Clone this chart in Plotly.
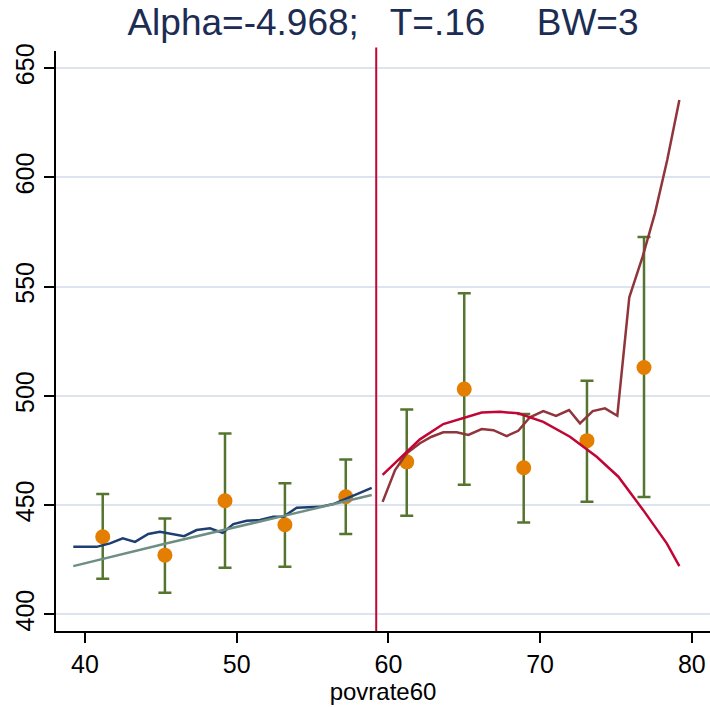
import plotly.graph_objects as go

# Regression-discontinuity plot: outcome against povrate60 around the cutoff
CUTOFF = 59.1984

# Binned means with confidence intervals
bin_x = [41.17, 45.27, 49.23, 53.18, 57.19, 61.21, 65.00, 68.92, 73.09, 76.85]
bin_mean = [435.5, 427.1, 452.0, 441.0, 453.8, 469.8, 503.1, 467.1, 479.5, 513.0]
ci_upper = [455.1, 443.9, 482.8, 460.0, 470.9, 493.8, 546.9, 491.7, 506.9, 572.7]
ci_lower = [416.3, 409.9, 421.3, 421.8, 436.8, 445.1, 459.3, 442.1, 451.5, 453.7]

# Local fit, left of cutoff
left_local_x = [39.23, 40.77, 41.65, 42.49, 43.30, 44.17, 44.94, 45.72, 46.53,
                47.36, 48.24, 49.08, 49.78, 50.66, 51.54, 52.41, 53.07, 53.96,
                55.49, 56.37, 57.25, 58.13, 58.90]
left_local_y = [430.9, 430.9, 432.5, 434.8, 433.2, 436.8, 437.8, 436.8, 435.8,
                438.6, 439.4, 437.3, 441.3, 442.8, 443.2, 444.7, 444.7, 448.8,
                449.2, 450.5, 453.1, 455.7, 457.9]

# Linear fit, left of cutoff
left_linear_x = [39.23, 45.27, 53.18, 58.90]
left_linear_y = [422.1, 432.3, 445.2, 454.6]

# Local fit, right of cutoff
right_local_x = [59.62, 60.44, 61.21, 62.08, 62.85, 63.62, 64.50, 65.27, 66.15,
                 66.92, 67.80, 68.56, 69.33, 70.21, 71.05, 71.91, 72.63, 73.47,
                 74.28, 75.09, 75.88, 76.76, 77.57, 78.38, 79.18]
right_local_y = [451.5, 466.0, 473.7, 478.3, 481.3, 483.3, 483.3, 482.1, 484.8,
                 484.3, 481.6, 484.0, 490.2, 493.0, 490.8, 493.5, 487.4, 493.0,
                 494.3, 490.9, 545.1, 563.7, 583.5, 607.9, 635.4]

# Quadratic fit, right of cutoff
right_quad_x = [59.62, 61.21, 62.08, 63.62, 66.15, 67.36, 68.56, 70.21, 71.97,
                73.73, 75.16, 76.80, 78.35, 79.18]
right_quad_y = [463.8, 474.4, 480.1, 487.1, 492.4, 492.7, 492.0, 488.1, 481.3,
                472.1, 463.0, 447.7, 432.5, 422.1]

y_ticks = [400, 450, 500, 550, 600, 650]
x_ticks = [40, 50, 60, 70, 80]

NAVY = "rgb(28,62,112)"
MAROON = "rgb(144,53,59)"
FOREST = "rgb(85,117,47)"
DKORANGE = "rgb(227,126,0)"
TEAL = "rgb(110,142,132)"
CRANBERRY = "rgb(193,5,52)"
TITLE_COLOR = "rgb(28,44,82)"
GRID = "rgb(222,228,239)"
FONT = "Liberation Sans, Arial, sans-serif"

fig = go.Figure()

fig.add_trace(go.Scatter(
    x=bin_x, y=bin_mean, mode="markers",
    marker=dict(color=DKORANGE, size=15, line=dict(width=0)),
    error_y=dict(
        type="data", symmetric=False,
        array=[u - m for u, m in zip(ci_upper, bin_mean)],
        arrayminus=[m - l for m, l in zip(bin_mean, ci_lower)],
        color=FOREST, thickness=2.5, width=6.5,
    ),
    showlegend=False,
))

line_style = dict(width=2.5)
fig.add_trace(go.Scatter(x=left_local_x, y=left_local_y, mode="lines",
                         line=dict(color=NAVY, **line_style), showlegend=False))
fig.add_trace(go.Scatter(x=left_linear_x, y=left_linear_y, mode="lines",
                         line=dict(color=TEAL, **line_style), showlegend=False))
fig.add_trace(go.Scatter(x=right_local_x, y=right_local_y, mode="lines",
                         line=dict(color=MAROON, **line_style), showlegend=False))
fig.add_trace(go.Scatter(x=right_quad_x, y=right_quad_y, mode="lines",
                         line=dict(color=CRANBERRY, **line_style), showlegend=False))

# Cutoff marker
fig.add_shape(type="line", xref="x", yref="paper",
              x0=CUTOFF, x1=CUTOFF, y0=0, y1=1.006,
              line=dict(color=CRANBERRY, width=2))

NB = "\u00a0"
fig.update_layout(
    width=710, height=707,
    margin=dict(l=56, r=0, t=51, b=76),
    paper_bgcolor="white", plot_bgcolor="white",
    font=dict(family=FONT, color="black"),
    title=dict(
        text=f"Alpha=-4.968;{NB*3}T=.16{NB*5}BW=3",
        x=0.5, xref="paper", xanchor="center",
        y=1 - 9 / 707, yref="container", yanchor="top",
        font=dict(size=37, color=TITLE_COLOR, family=FONT),
    ),
    xaxis=dict(
        range=[38.09, 81.2], tickvals=x_ticks, ticktext=[str(v) for v in x_ticks],
        showline=True, linecolor="black", linewidth=1.5,
        ticks="outside", ticklen=10, tickwidth=1.5, tickcolor="black",
        tickfont=dict(size=25, family=FONT),
        showgrid=False, zeroline=False,
        title=dict(text="povrate60", font=dict(size=24, family=FONT), standoff=2),
    ),
    yaxis=dict(
        range=[392.4, 657.8], tickvals=y_ticks, ticktext=[str(v) for v in y_ticks],
        showline=True, linecolor="black", linewidth=1.5,
        ticks="outside", ticklen=10, tickwidth=1.5, tickcolor="black",
        tickangle=-90, tickfont=dict(size=25, family=FONT),
        showgrid=True, gridcolor=GRID, gridwidth=1.5, zeroline=False,
    ),
)

fig.write_html("out.html")
